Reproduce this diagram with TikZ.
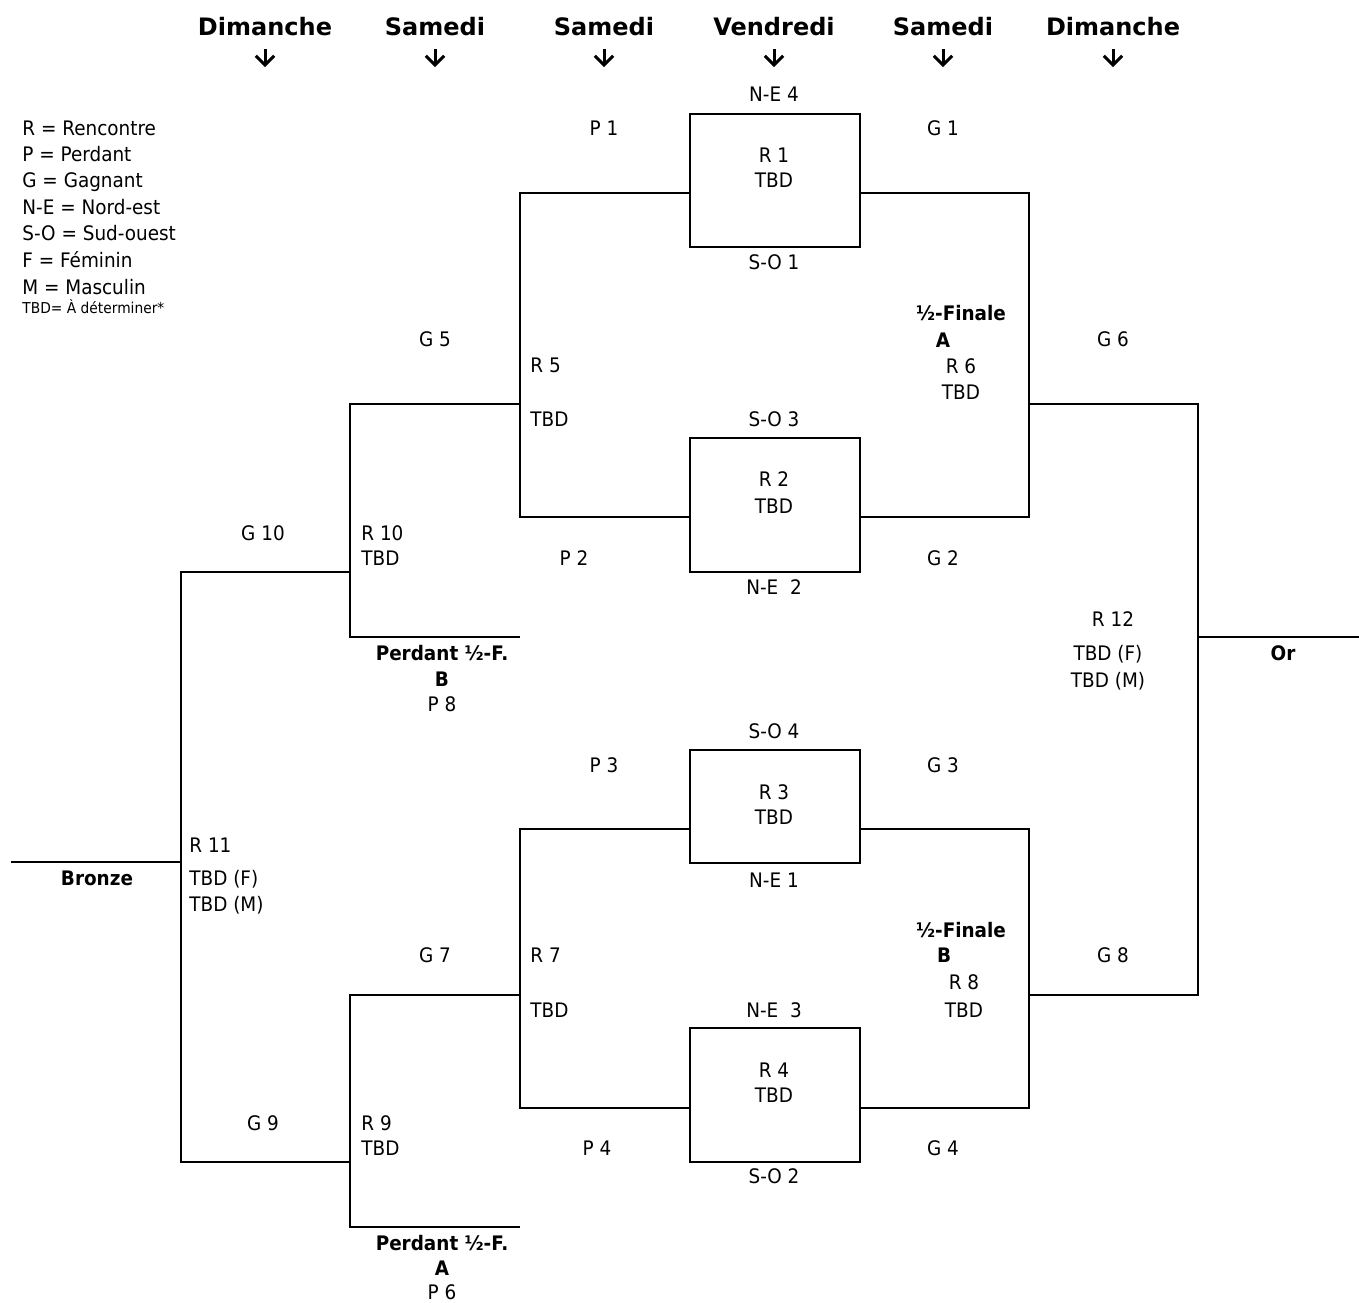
\documentclass[tikz,border=0pt]{standalone}
\usepackage{fontspec}
\setmainfont{DejaVu Sans}[FakeStretch=0.92]
\newfontfamily\hdfont{DejaVu Sans}
\begin{document}
\begin{tikzpicture}[x=0.5pt,y=-0.5pt,
  txt/.style={inner sep=0pt, text height=7.3pt, text depth=0pt, font=\fontsize{10}{12}\selectfont},
  lt/.style={txt, anchor=west},
  bt/.style={txt, font=\fontsize{10}{12}\selectfont\bfseries},
  hd/.style={inner sep=0pt, text height=8.7pt, text depth=0pt, font=\hdfont\fontsize{12}{14}\selectfont\bfseries},
  mbox/.style={draw, line width=1pt, minimum width=85pt, inner sep=0pt},
  ln/.style={line width=1pt},
  dn/.style={line width=1.5pt}]
\useasboundingbox (0,0) rectangle (1359,1302);

% headers
\foreach \x/\t/\n in {265/Dimanche/h1,435/Samedi/h2,604/Samedi/h3,774/Vendredi/h4,943/Samedi/h5,1113/Dimanche/h6}{
  \node[hd] (\n) at (\x,27) {\t};
  \coordinate (\n a) at (\x,49);
  \coordinate (\n b) at (\x,65);
  \draw[dn] (\n a) -- (\n b);
  \draw[dn, line join=miter] ([xshift=-4.6pt,yshift=4.6pt]\n b) -- (\n b) -- ([xshift=4.6pt,yshift=4.6pt]\n b);
}

% legend
\node[lt] (l1) at (22,128) {R = Rencontre};
\node[lt] (l2) at (22,154) {P = Perdant};
\node[lt] (l3) at (22,180) {G = Gagnant};
\node[lt] (l4) at (22,207) {N-E = Nord-est};
\node[lt] (l5) at (22,233) {S-O = Sud-ouest};
\node[lt] (l6) at (22,260) {F = Féminin};
\node[lt] (l7) at (22,287) {M = Masculin};
\node[lt, text height=5.5pt, font=\fontsize{7.5}{9}\selectfont] (l8) at (22,308) {TBD= À déterminer*};

% boxes
\node[mbox, minimum height=66.5pt] (r1) at (775,180.5) {};
\node[mbox, minimum height=67pt] (r2) at (775,505) {};
\node[mbox, minimum height=56.5pt] (r3) at (775,806.5) {};
\node[mbox, minimum height=67pt] (r4) at (775,1095) {};

% bracket coordinates
\coordinate (b5t) at (520,193);  \coordinate (b5b) at (520,517); \coordinate (b5m) at (520,404);
\coordinate (b6t) at (1029,193); \coordinate (b6b) at (1029,517); \coordinate (b6m) at (1029,404);
\coordinate (b7t) at (520,829);  \coordinate (b7b) at (520,1108); \coordinate (b7m) at (520,995);
\coordinate (b8t) at (1029,829); \coordinate (b8b) at (1029,1108); \coordinate (b8m) at (1029,995);
\coordinate (b12t) at (1198,404); \coordinate (b12b) at (1198,995); \coordinate (b12m) at (1198,637);
\coordinate (orE) at (1359,637);
\coordinate (b10t) at (350,404); \coordinate (b10b) at (350,637); \coordinate (b10m) at (350,572); \coordinate (b10e) at (520,637);
\coordinate (b11t) at (181,572); \coordinate (b11b) at (181,1162); \coordinate (b11m) at (181,862); \coordinate (brW) at (11,862);
\coordinate (b9t) at (350,995); \coordinate (b9b) at (350,1227); \coordinate (b9m) at (350,1162); \coordinate (b9e) at (520,1227);

\draw[ln] (r1.west |- b5t) -- (b5t) -- (b5b) -- (r2.west |- b5b);
\draw[ln] (r1.east |- b6t) -- (b6t) -- (b6b) -- (r2.east |- b6b);
\draw[ln] (r3.west |- b7t) -- (b7t) -- (b7b) -- (r4.west |- b7b);
\draw[ln] (r3.east |- b8t) -- (b8t) -- (b8b) -- (r4.east |- b8b);
\draw[ln] (b6m) -- (b12t) -- (b12b) -- (b8m);
\draw[ln] (b12m) -- (orE);
\draw[ln] (b5m) -- (b10t) -- (b10b) -- (b10e);
\draw[ln] (b7m) -- (b9t) -- (b9b) -- (b9e);
\draw[ln] (b10m) -- (b11t) -- (b11b) -- (b9m);
\draw[ln] (b11m) -- (brW);

% R1 area
\node[txt] (ne4) at (774,94) {N-E 4};
\node[txt] (p1) at (604,128) {P 1};
\node[txt] (g1) at (943,128) {G 1};
\node[txt] (r1a) at (774,155) {R 1};
\node[txt] (r1b) at (774,180) {TBD};
\node[txt] (so1) at (774,262) {S-O 1};

% R5 / R6
\node[txt] (g5) at (435,339) {G 5};
\node[lt] (r5a) at (530,365) {R 5};
\node[lt] (r5b) at (530,419) {TBD};
\node[bt] (sfa) at (961,313) {½-Finale};
\node[bt] (sfa2) at (943,340) {A};
\node[txt] (r6a) at (961,366) {R 6};
\node[txt] (r6b) at (961,392) {TBD};
\node[txt] (g6) at (1113,339) {G 6};

% R2 area
\node[txt] (so3) at (774,419) {S-O 3};
\node[txt] (r2a) at (774,479) {R 2};
\node[txt] (r2b) at (774,506) {TBD};
\node[txt] (p2) at (574,558) {P 2};
\node[txt] (g2) at (943,558) {G 2};
\node[txt] (ne2) at (774,587) {N-E\ \ 2};

% R10
\node[txt] (g10) at (263,533) {G 10};
\node[lt] (r10a) at (361,533) {R 10};
\node[lt] (r10b) at (361,558) {TBD};
\node[bt] (pfb) at (442,653) {Perdant ½-F.};
\node[bt] (pfb2) at (442,679) {B};
\node[txt] (p8) at (442,704) {P 8};

% R12
\node[txt] (r12a) at (1113,619) {R 12};
\node[txt] (r12b) at (1108,653) {TBD (F)};
\node[txt] (r12c) at (1108,680) {TBD (M)};
\node[bt] (or) at (1283,653) {Or};

% R3 area
\node[txt] (so4) at (774,731) {S-O 4};
\node[txt] (p3) at (604,765) {P 3};
\node[txt] (g3) at (943,765) {G 3};
\node[txt] (r3a) at (774,792) {R 3};
\node[txt] (r3b) at (774,817) {TBD};
\node[txt] (ne1) at (774,880) {N-E 1};

% R11
\node[lt] (r11a) at (189,845) {R 11};
\node[lt] (r11b) at (189,878) {TBD (F)};
\node[lt] (r11c) at (189,904) {TBD (M)};
\node[bt] (bronze) at (97,878) {Bronze};

% R7 / R8
\node[txt] (g7) at (435,955) {G 7};
\node[lt] (r7a) at (530,955) {R 7};
\node[lt] (r7b) at (530,1010) {TBD};
\node[bt] (sfb) at (961,930) {½-Finale};
\node[bt] (sfb2) at (944,955) {B};
\node[txt] (r8a) at (964,982) {R 8};
\node[txt] (r8b) at (964,1010) {TBD};
\node[txt] (g8) at (1113,955) {G 8};

% R4 area
\node[txt] (ne3) at (774,1010) {N-E\ \ 3};
\node[txt] (r4a) at (774,1070) {R 4};
\node[txt] (r4b) at (774,1095) {TBD};
\node[txt] (p4) at (597,1148) {P 4};
\node[txt] (g4) at (943,1148) {G 4};
\node[txt] (so2) at (774,1176) {S-O 2};

% R9
\node[txt] (g9) at (263,1123) {G 9};
\node[lt] (r9a) at (361,1123) {R 9};
\node[lt] (r9b) at (361,1148) {TBD};
\node[bt] (pfa) at (442,1243) {Perdant ½-F.};
\node[bt] (pfa2) at (442,1268) {A};
\node[txt] (p6) at (442,1292) {P 6};
\end{tikzpicture}
\end{document}
